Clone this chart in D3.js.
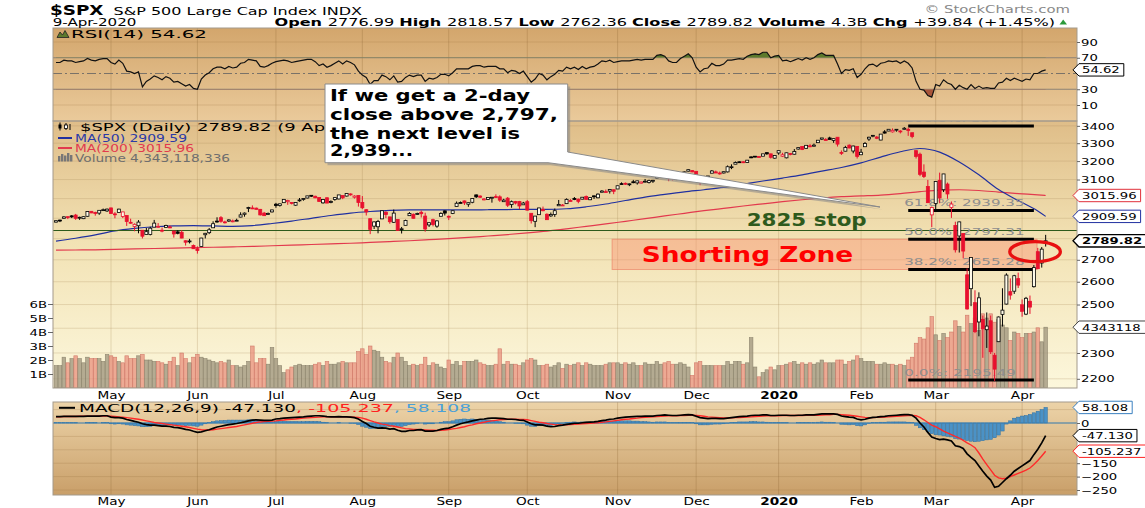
<!DOCTYPE html>
<html><head><meta charset="utf-8">
<script src="https://cdn.jsdelivr.net/npm/d3@7/dist/d3.min.js"></script>
<style>html,body{margin:0;padding:0;background:#fff;overflow:hidden}svg{display:block}</style>
</head><body>
<svg id="chart" width="1145" height="508"></svg>
<script>
// ================= DATA =================
// trading-day index: 0 = 1 May 2019, first bar (-14) = 10 Apr 2019, last bar (238) = 9 Apr 2020
const firstDay = -14;
const monthLabels = ["May","Jun","Jul","Aug","Sep","Oct","Nov","Dec","2020","Feb","Mar","Apr"];
const monthStart  = [0,22,42,64,86,106,129,149,170,191,210,232];

const openP = [2881,2891,2900,2908,2912,2916,2904,2898,2910,2935,2929,2926,2940,2937,
2952,2922,2929,2909,2914,2880,2859,2863,2841,2820,2820,2856,2859,2841,2855,2857,2837,2833,2831,2790,2786,2767,
2752,2763,2819,2829,2853,2886,2903,2882,2886,2886,2889,2906,2920,2950,2952,2951,2945,2926,2919,2932,
2971,2964,2979,2984,2980,2966,2989,2999,3003,3017,3012,3006,2978,3004,2982,2995,2998,3016,3013,3024,3007,3016,
2980,2943,2898,2861,2858,2897,2930,2907,2880,2894,2847,2865,2913,2920,2922,2930,2911,2867,2893,2861,2910,2937,
2910,2924,2960,2980,2988,2971,2981,3019,3013,2996,2996,3002,3010,3009,2984,3002,2969,2985,2985,2968,
2984,2925,2885,2918,2945,2920,2912,2919,2963,2966,2974,2990,3000,2997,2997,3011,2994,3014,3004,3033,3036,3039,3046,
3050,3078,3080,3075,3088,3082,3081,3089,3084,3091,3108,3118,3127,3114,3109,3112,3118,3134,3145,3148,
3144,3087,3103,3119,3134,3141,3135,3135,3141,3166,3183,3196,3196,3192,3223,3227,3225,3227,3247,3240,3216,
3245,3227,3218,3242,3238,3267,3281,3271,3285,3283,3303,3323,3321,3330,3316,3334,3248,3255,3289,3256,3282,
3235,3280,3324,3344,3335,3318,3365,3370,3365,3378,3370,3380,3380,3360,3258,3238,3140,3063,2917,
2975,3096,3046,3076,2954,2864,2813,2825,2631,2569,2508,2426,2437,2394,2431,2291,2345,2458,2502,2556,2558,2614,
2499,2459,2514,2578,2738,2685,2776.99];

const highP = [2889,2893,2910,2909,2916,2922,2908,2909,2936,2936,2933,2940,2949,2949,
2954,2931,2948,2932,2914,2898,2875,2891,2841,2852,2858,2892,2876,2854,2868,2865,2837,2841,2841,2792,2799,2772,
2763,2804,2828,2852,2885,2905,2911,2888,2895,2894,2898,2930,2929,2958,2965,2954,2947,2932,2929,2943,
2978,2974,2996,2994,2980,2981,3003,3002,3014,3017,3015,3006,2998,3007,2991,3005,3019,3016,3028,3027,3017,3017,
3013,2946,2898,2884,2892,2938,2935,2907,2944,2894,2857,2893,2931,2924,2928,2939,2928,2879,2898,2890,2930,2940,
2914,2938,2985,2985,2990,2979,3000,3021,3017,3003,3006,3008,3022,3017,2999,3008,2990,2988,2988,2983,
2993,2925,2911,2953,2959,2925,2929,2949,2993,2972,3001,2997,3008,3000,3008,3016,3005,3016,3027,3044,3047,3050,3047,
3067,3085,3084,3079,3098,3094,3088,3103,3099,3098,3120,3124,3127,3118,3111,3113,3133,3143,3155,3151,
3144,3094,3120,3119,3151,3148,3143,3143,3176,3182,3198,3198,3199,3206,3226,3228,3226,3240,3248,3241,3232,
3258,3246,3247,3245,3267,3275,3283,3288,3295,3298,3317,3330,3329,3337,3326,3334,3259,3285,3293,3286,3282,
3268,3307,3337,3347,3341,3352,3375,3381,3385,3381,3375,3393,3390,3360,3259,3247,3182,3098,2959,
3091,3137,3130,3084,2985,2883,2883,2825,2660,2711,2562,2553,2453,2466,2453,2300,2449,2571,2638,2615,2631,2641,
2522,2533,2539,2676,2756,2760,2818.57];

const lowP = [2879,2881,2898,2896,2901,2892,2892,2896,2908,2926,2913,2917,2939,2932,
2923,2900,2929,2901,2862,2873,2836,2826,2801,2820,2816,2856,2852,2831,2855,2851,2805,2821,2802,2767,2777,2751,
2729,2763,2801,2822,2853,2878,2878,2874,2882,2880,2886,2905,2908,2931,2946,2944,2914,2912,2918,2929,
2953,2959,2979,2968,2970,2963,2984,2989,3001,3008,3002,2985,2974,2976,2976,2989,2996,2997,3011,3015,3000,2959,
2946,2914,2822,2847,2826,2896,2901,2873,2877,2840,2825,2865,2913,2899,2917,2904,2834,2857,2860,2853,2910,2914,
2891,2921,2960,2976,2967,2958,2976,3003,3003,2991,2993,2979,3004,2983,2983,2957,2953,2970,2946,2967,
2939,2874,2856,2918,2935,2893,2907,2907,2963,2963,2974,2986,2992,2976,2996,2995,2992,2998,3002,3032,3034,3026,3023,
3050,3075,3072,3065,3080,3073,3078,3084,3079,3082,3104,3109,3113,3091,3095,3097,3117,3131,3143,3139,
3110,3070,3103,3103,3134,3135,3126,3133,3138,3156,3183,3191,3189,3192,3216,3221,3221,3227,3235,3214,3213,
3235,3223,3215,3232,3236,3264,3261,3268,3277,3281,3302,3318,3316,3321,3302,3281,3234,3254,3271,3243,3214,
3235,3280,3313,3334,3323,3317,3355,3369,3361,3366,3356,3378,3342,3328,3214,3118,3108,2977,2856,
2945,2976,3034,2999,2902,2734,2734,2707,2478,2493,2380,2367,2281,2320,2296,2192,2345,2407,2500,2521,2546,2572,
2448,2455,2460,2574,2657,2664,2762.36];

const closeP = [2888,2888,2907,2905,2907,2900,2905,2908,2934,2927,2926,2940,2943,2946,
2924,2918,2946,2932,2884,2880,2870,2881,2812,2834,2851,2876,2860,2840,2864,2856,2823,2826,2803,2783,2789,2752,
2744,2803,2826,2843,2873,2886,2885,2879,2892,2887,2890,2917,2926,2954,2950,2945,2917,2913,2924,2942,
2964,2973,2996,2990,2976,2980,2993,3000,3014,3014,3004,2985,2995,2977,2985,3005,3019,3004,3026,3021,3013,2980,
2953,2932,2845,2882,2884,2938,2919,2883,2926,2840,2848,2889,2924,2900,2924,2923,2847,2878,2869,2887,2924,2926,
2906,2938,2976,2979,2978,2979,3000,3009,3007,2998,3006,3007,3006,2992,2992,2966,2984,2977,2962,2977,
2941,2888,2911,2952,2938,2893,2919,2938,2970,2967,2996,2990,2998,2986,3007,2996,3005,3010,3023,3039,3036,3047,3038,
3067,3078,3075,3077,3085,3093,3087,3091,3094,3096,3120,3122,3120,3108,3104,3110,3133,3141,3153,3141,
3114,3093,3113,3117,3146,3135,3133,3142,3169,3169,3192,3193,3191,3205,3221,3224,3223,3240,3240,3221,3231,
3258,3235,3246,3237,3253,3275,3265,3288,3283,3289,3317,3330,3321,3321,3326,3295,3244,3276,3273,3284,3226,
3249,3298,3334,3345,3328,3352,3358,3380,3374,3380,3370,3386,3373,3338,3226,3128,3116,2979,2954,
3090,3003,3130,3024,2972,2747,2882,2741,2481,2711,2386,2529,2398,2409,2305,2237,2447,2476,2630,2541,2627,2585,
2471,2527,2489,2664,2659,2750,2789.82];

// volume, billions of shares
const volumeB = [1.6,1.6,2.2,1.8,2.1,2.3,2.1,1.8,2.2,2.1,2.1,2.1,1.9,2.4,
2.3,2.2,1.9,1.8,2.3,2.1,2.1,2.3,2.4,2.0,2.0,1.9,1.9,1.8,1.7,1.9,2.2,1.6,2.5,2.1,1.8,2.2,
2.4,2.2,2.1,2.0,1.9,1.8,1.9,1.8,2.0,1.6,1.6,1.5,1.6,1.9,3.0,1.8,2.1,2.1,1.7,2.9,
2.1,1.6,1.1,1.3,1.5,1.6,1.7,1.6,1.6,1.6,1.7,1.8,1.6,1.9,1.7,1.7,1.8,1.9,1.8,1.8,1.8,2.6,
2.8,2.4,3.0,2.7,2.6,2.2,1.9,1.8,2.2,2.5,2.2,1.9,1.6,1.7,1.6,1.7,2.2,1.6,1.8,1.7,1.5,1.4,
2.0,1.7,1.9,1.6,1.9,1.9,1.9,2.0,1.8,1.7,1.6,1.6,1.7,2.8,1.7,1.9,1.7,1.7,1.6,1.8,
2.0,2.1,2.0,1.6,1.6,1.7,1.5,1.6,1.8,1.4,1.7,1.6,1.7,1.8,1.6,1.8,1.7,1.6,1.6,1.6,1.7,1.8,1.8,
1.8,1.7,1.8,1.7,1.8,1.6,1.6,1.8,1.7,1.7,1.9,1.7,1.8,1.9,1.7,1.7,1.8,1.7,1.5,0.9,
1.8,1.9,1.6,1.6,1.6,1.6,1.6,1.6,1.9,1.7,1.9,1.9,1.7,1.8,3.6,1.5,0.8,1.1,1.3,1.5,1.3,
1.6,1.6,1.7,1.8,1.9,1.7,1.8,1.7,1.8,1.7,1.8,2.0,1.8,1.8,1.8,2.0,2.0,1.7,1.9,2.0,2.3,
2.1,1.9,1.9,1.9,1.7,1.7,1.8,1.7,1.7,1.6,1.7,1.6,2.0,2.2,3.2,3.6,3.5,4.3,5.1,
3.8,3.4,3.9,3.6,4.0,4.8,4.4,4.0,5.2,4.6,5.0,4.1,5.3,5.0,5.3,4.7,4.9,4.5,4.3,3.4,4.0,3.9,
3.6,3.9,3.9,4.0,4.3,3.3,4.343];

const rsi = [64,64,67,66,66,64,65,66,69,67,66,68,69,69,
64,62,67,63,53,52,50,52,33,40,43,47,45,42,46,44,39,40,37,34,36,31,
30,43,48,51,56,58,58,56,59,57,58,63,64,68,67,66,59,58,60,63,
65,66,67,66,64,65,66,67,68,68,65,60,62,58,60,63,66,62,66,64,61,53,
48,45,36,41,41,48,46,42,47,39,40,45,48,46,48,48,40,44,43,45,49,49,
47,51,56,56,56,56,59,60,60,58,59,59,59,56,56,51,54,53,50,53,
46,39,43,50,48,42,46,49,54,53,58,56,58,55,59,56,58,59,62,66,65,67,64,
65,66,66,66,67,68,67,68,68,68,73,74,72,66,64,64,69,72,75,70,
58,52,56,57,63,60,60,62,67,67,68,69,68,72,74,75,74,77,77,70,72,
73,66,67,65,67,69,67,70,68,70,74,76,73,73,73,62,50,55,54,56,45,
49,56,61,62,59,63,64,66,65,66,63,66,63,57,40,30,29,22,20,
36,34,42,38,36,30,35,32,30,36,31,34,31,32,31,31,38,39,44,41,44,42,
40,43,42,50,50,53,54.62];

const macd = [24,24,25,25,25,25,25,25,26,26,26,26,27,27,
22,20,20,18,13,10,6,3,-3,-6,-8,-8,-10,-12,-12,-13,-16,-17,-20,-24,-26,-31,
-35,-33,-29,-25,-20,-15,-12,-9,-6,-4,-2,1,4,8,11,12,11,10,10,11,
15,16,18,19,20,21,22,23,25,26,27,27,26,24,23,23,24,23,23,22,20,15,
6,-2,-12,-16,-19,-18,-19,-23,-21,-27,-31,-31,-28,-28,-26,-25,-30,-30,-30,-28,-24,-21,
-19,-14,-8,-3,1,4,8,11,14,15,17,18,18,17,16,14,14,13,11,10,
4,-3,-7,-7,-8,-12,-14,-13,-10,-8,-5,-3,-1,-1,1,2,3,4,6,9,11,14,15,
18,20,22,23,24,25,25,26,26,26,28,29,30,29,28,28,29,30,31,30,
25,20,18,16,17,17,16,16,18,20,22,24,25,26,28,29,29,30,30,28,28,
29,29,29,28,28,29,29,30,30,30,32,34,34,34,34,32,26,24,22,21,15,
12,14,18,21,22,24,25,27,28,29,30,31,31,29,18,0,-15,-35,-52,
-58,-62,-60,-63,-67,-85,-88,-95,-115,-128,-140,-160,-180,-198,-213,-240,-236,-222,-208,-195,-180,-170,
-160,-150,-140,-118,-98,-74,-47.13];

const signal = [23,23,24,24,24,24,25,25,25,25,25,26,26,26,
25,24,23,22,20,18,16,14,11,8,5,2,0,-2,-4,-6,-8,-10,-12,-14,-17,-20,
-23,-25,-26,-26,-25,-23,-21,-19,-17,-15,-13,-10,-7,-4,-1,2,4,5,6,7,
8,10,11,13,14,15,17,18,19,20,21,22,23,23,23,23,23,23,23,23,22,21,
18,14,9,4,0,-4,-6,-10,-12,-15,-18,-21,-22,-24,-24,-25,-26,-27,-27,-28,-27,-26,
-24,-22,-20,-17,-14,-10,-7,-3,0,3,6,8,10,12,13,14,14,14,13,13,
12,9,6,3,1,-2,-4,-6,-7,-7,-7,-6,-5,-4,-3,-2,-1,0,1,3,4,6,8,
10,12,14,15,17,18,20,21,22,23,24,25,26,27,27,27,28,28,29,29,
28,27,25,23,22,21,20,19,19,19,20,20,21,22,23,24,25,26,27,27,27,
27,28,28,28,28,28,28,29,29,29,29,30,31,31,32,32,31,30,29,27,25,
23,21,20,20,21,21,22,23,24,25,26,27,28,28,27,21,12,2,-8,
-14,-22,-30,-37,-43,-50,-56,-65,-74,-82,-92,-112,-135,-155,-175,-195,-205,-208,-206,-200,-194,-188,
-182,-176,-168,-155,-140,-123,-105.237];

const hist = [1,1,1,1,1,1,0,0,1,1,1,0,1,1,
-3,-4,-3,-4,-7,-8,-10,-11,-14,-14,-13,-10,-10,-10,-8,-7,-8,-7,-8,-10,-9,-11,
-12,-8,-3,1,5,8,9,10,11,11,11,11,11,12,12,10,7,5,4,4,
7,6,7,6,6,6,5,5,6,6,6,5,3,1,0,0,1,0,0,-1,-2,-6,
-12,-16,-21,-20,-19,-14,-13,-13,-9,-12,-13,-10,-6,-4,-2,0,-4,-3,-3,0,3,5,
5,8,12,14,15,14,15,14,14,12,11,10,8,5,3,0,0,-1,-2,-3,
-8,-12,-13,-10,-9,-10,-10,-7,-3,-1,2,3,4,3,4,4,4,4,5,6,7,8,7,
8,8,8,8,7,7,5,5,4,3,4,4,4,2,1,1,1,2,2,1,
-3,-7,-7,-7,-5,-4,-4,-3,-1,1,2,4,4,4,5,5,4,4,3,1,1,
2,1,1,0,0,1,1,1,1,1,3,4,3,3,2,0,-5,-6,-7,-6,-10,
-11,-7,-2,1,1,3,3,4,4,4,4,4,3,1,-9,-18,-25,-33,-40,
-44,-45,-48,-50,-52,-58,-60,-62,-65,-68,-70,-68,-66,-63,-61,-55,-45,-30,-4,8,18,22,
26,28,32,38,44,50,58.108];

const maDays = [-14,-9,-4,1,6,11,16,21,26,31,36,41,46,51,56,61,66,71,76,81,86,91,96,101,106,111,116,121,126,131,136,141,146,151,156,161,166,171,176,181,186,191,196,201,206,211,216,221,226,231,236,238];
const ma50 = [2788,2802,2818,2838,2850,2858,2862,2864,2862,2860,2864,2874,2886,2900,2914,2926,2934,2940,2942,2942,
2942,2942,2943,2944,2945,2945,2948,2958,2972,2990,3008,3022,3035,3046,3058,3075,3092,3108,3125,3145,
3165,3190,3222,3252,3270,3250,3195,3125,3047,2990,2937,2909.59];
const ma200 = [2745,2746,2747,2749,2751,2753,2755,2757,2759,2761,2763,2766,2769,2772,2775,2778,2782,2786,2790,2795,
2800,2806,2813,2820,2828,2837,2848,2860,2872,2885,2898,2912,2925,2938,2950,2962,2973,2984,2994,3003,
3010,3014,3018,3026,3036,3044,3046,3042,3034,3026,3019,3015.96];

const fibLabels = ["100.0%: 3399.14","61.8%: 2939.35","50.0%: 2797.31","38.2%: 2655.28","0.0%: 2195.49"];
const fibValues = [3399.14,2939.35,2797.31,2655.28,2195.49];

const rsiTicks = [10,30,50,70,90];
const priceTicks = [2200,2300,2400,2500,2600,2700,2800,2900,3000,3100,3200,3300,3400];
const volTicks = [1,2,3,4,5,6];
const macdTicks = [50,0,-50,-100,-150,-200,-250];
// tick labels hidden behind the value tags in the reference
const hiddenRsi = [50], hiddenPrice = [2400,2800,2900,3000], hiddenMacd = [50,-50,-100];

const headerStats = [["Open","2776.99"],["High","2818.57"],["Low","2762.36"],["Close","2789.82"],["Volume","4.3B"],["Chg","+39.84 (+1.45%)"]];
const calloutLines = ["If we get a 2-day","close above 2,797,","the next level is","2,939..."];
const stopLineLevel = 2840;
const zoneLow = 2655.28, zoneHigh = 2797.31;

// ================= LAYOUT =================
const svg = d3.select('#chart');
const L = 53, R = 1077;
const rsiTop = 28, rsiBot = 121, pTop = 121, pBot = 388, mTop = 402, mBot = 495;
const SX = 1.42, AXFS = 9.3, FF = 'DejaVu Sans';
const RED = '#e8102e', BLK = '#000';

const days = d3.range(firstDay, firstDay + closeP.length);
const x = d3.scaleLinear().domain([0, 232]).range([111, 1022.1]);
const yP = d3.scaleLog().domain([2195.49, 3399.14]).range([380, 126]);
const yV = d3.scaleLinear().domain([0, 1]).range([pBot, pBot - 14]);
const yR = d3.scaleLinear().domain([10, 90]).range([105, 42]);
const yM = d3.scaleLinear().domain([-250, 0]).range([490, 423]);

const defs = svg.append('defs');
function grad(id, stops){ const g = defs.append('linearGradient').attr('id',id).attr('x1',0).attr('y1',0).attr('x2',0).attr('y2',1);
  stops.forEach(([o,c])=>g.append('stop').attr('offset',o).attr('stop-color',c)); }
grad('gRSI', [[0,'#d3a66c'],[1,'#eaca9b']]);
grad('gPrice', [[0,'#dfbd88'],[0.45,'#f2e2b4'],[1,'#fcf7dc']]);
grad('gMACD', [[0,'#ecd3a8'],[1,'#c99f69']]);
function clip(id,x0,y0,w,h){ defs.append('clipPath').attr('id',id).append('rect').attr('x',x0).attr('y',y0).attr('width',w).attr('height',h); }
clip('cR', L, rsiTop, R-L, rsiBot-rsiTop);
clip('cP', L, pTop, R-L, pBot-pTop);
clip('cM', L, mTop, R-L, mBot-mTop);
clip('cR70', L, rsiTop, R-L, yR(70)-rsiTop);
clip('cR30', L, yR(30), R-L, rsiBot-yR(30));

function txt(sel, xx, yy, s, o={}){
  const t = sel.append('text').attr('x',xx).attr('y',yy).text(s)
    .attr('font-family', o.ff||FF).attr('font-size', o.fs||10)
    .attr('font-weight', o.fw||'normal').attr('fill', o.fill||'#000')
    .attr('text-anchor', o.anchor||'start');
  if (o.w) t.attr('textLength', o.w).attr('lengthAdjust','spacingAndGlyphs');
  else if (o.sx) t.attr('x',0).attr('y',0).attr('transform',`translate(${xx},${yy}) scale(${o.sx},1)`);
  return t;
}

// ---------- panel backgrounds ----------
svg.append('rect').attr('x',L).attr('y',rsiTop).attr('width',R-L).attr('height',rsiBot-rsiTop).attr('fill','url(#gRSI)');
svg.append('rect').attr('x',L).attr('y',pTop).attr('width',R-L).attr('height',pBot-pTop).attr('fill','url(#gPrice)');
svg.append('rect').attr('x',L).attr('y',mTop).attr('width',R-L).attr('height',mBot-mTop).attr('fill','url(#gMACD)');

// ---------- grid ----------
const grid = svg.append('g');
[[rsiTop,rsiBot,'rgba(140,100,50,0.28)'],[pTop,pBot,'rgba(170,140,90,0.28)'],[mTop,mBot,'rgba(140,100,50,0.28)']].forEach(([a,b,c])=>{
  grid.selectAll(null).data(monthStart).enter().append('line')
    .attr('x1',d=>x(d)).attr('x2',d=>x(d)).attr('y1',a).attr('y2',b).attr('stroke',c).attr('stroke-width',1);
});
grid.selectAll(null).data(priceTicks).enter().append('line')
  .attr('x1',L).attr('x2',R).attr('y1',d=>yP(d)).attr('y2',d=>yP(d)).attr('stroke','rgba(170,140,90,0.25)');
grid.selectAll(null).data(macdTicks).enter().append('line')
  .attr('x1',L).attr('x2',R).attr('y1',d=>yM(d)).attr('y2',d=>yM(d)).attr('stroke','rgba(140,100,50,0.2)');
grid.selectAll(null).data([10,90]).enter().append('line')
  .attr('x1',L).attr('x2',R).attr('y1',d=>yR(d)).attr('y2',d=>yR(d)).attr('stroke','rgba(140,100,50,0.2)');
grid.selectAll(null).data([30,70]).enter().append('line')
  .attr('x1',L).attr('x2',R).attr('y1',d=>yR(d)).attr('y2',d=>yR(d)).attr('stroke','#8c8274').attr('stroke-width',1.1);
grid.append('line').attr('x1',L).attr('x2',R).attr('y1',yR(50)).attr('y2',yR(50))
  .attr('stroke','#7a7268').attr('stroke-dasharray','9,3,2,3');

// ---------- RSI ----------
const gR = svg.append('g').attr('clip-path','url(#cR)');
gR.append('path').datum(rsi).attr('clip-path','url(#cR70)').attr('d', d3.area().x((d,i)=>x(days[i])).y1(d=>yR(d)).y0(yR(70))).attr('fill','#5d7a2c');
gR.append('path').datum(rsi).attr('clip-path','url(#cR30)').attr('d', d3.area().x((d,i)=>x(days[i])).y1(d=>yR(d)).y0(yR(30))).attr('fill','#a8553a');
gR.append('path').datum(rsi).attr('d', d3.line().x((d,i)=>x(days[i])).y(d=>yR(d))).attr('fill','none').attr('stroke','#111').attr('stroke-width',1.2);

// ---------- price panel ----------
const gP = svg.append('g').attr('clip-path','url(#cP)');
gP.selectAll(null).data(days).enter().append('rect')
  .attr('x',d=>x(d)-1.8).attr('width',3.6)
  .attr('y',(d,i)=>yV(volumeB[i])).attr('height',(d,i)=>pBot-yV(volumeB[i]))
  .attr('fill',(d,i)=> i>0 && closeP[i]<closeP[i-1] ? 'rgba(232,140,120,0.72)' : 'rgba(160,150,125,0.78)')
  .attr('stroke',(d,i)=> i>0 && closeP[i]<closeP[i-1] ? 'rgba(205,110,95,0.85)' : 'rgba(130,122,100,0.85)')
  .attr('stroke-width',0.6);
const maLine = arr => d3.line().curve(d3.curveMonotoneX).x((d,i)=>x(maDays[i])).y(d=>yP(d))(arr);
gP.append('path').attr('d', maLine(ma200)).attr('fill','none').attr('stroke','#e23a4e').attr('stroke-width',1.2);
gP.append('path').attr('d', maLine(ma50)).attr('fill','none').attr('stroke','#2030a0').attr('stroke-width',1.2);
gP.append('line').attr('x1',L).attr('x2',R).attr('y1',yP(stopLineLevel)).attr('y2',yP(stopLineLevel)).attr('stroke','#2e5a1c').attr('stroke-width',1.1);
gP.append('rect').attr('x',x(127.6)).attr('y',yP(zoneHigh)).attr('width',x(235.8)-x(127.6)).attr('height',yP(zoneLow)-yP(zoneHigh))
  .attr('fill','rgba(250,140,110,0.42)').attr('stroke','rgba(235,120,95,0.6)').attr('stroke-width',1);
txt(gP, 641.7, 261.7, 'Shorting Zone', {fs:20.5, fw:'bold', fill:'#ff0000', w:211.6});
txt(gP, 746.7, 226.2, '2825 stop', {fs:17.4, fw:'bold', fill:'#2e5a1c', w:120});
fibValues.forEach((v,i)=>{
  gP.append('line').attr('x1',x(203)).attr('x2',x(235)).attr('y1',yP(v)).attr('y2',yP(v)).attr('stroke','#000').attr('stroke-width',3);
  txt(gP, x(203)-4, yP(v)-4.5, fibLabels[i], {fs:8.4, fill:'#8e8e8e', w: fibLabels[i].length*8.6});
});
const gC = gP.append('g');
days.forEach((d,i)=>{
  const o=openP[i], h=highP[i], l=lowP[i], c=closeP[i];
  const prev = i>0 ? closeP[i-1] : o;
  const col = c < prev ? RED : BLK;
  const cx = x(d);
  gC.append('line').attr('x1',cx).attr('x2',cx).attr('y1',yP(h)).attr('y2',yP(l)).attr('stroke',col).attr('stroke-width',1);
  const yt = yP(Math.max(o,c)), yb = yP(Math.min(o,c));
  gC.append('rect').attr('x',cx-1.5).attr('width',3).attr('y',yt).attr('height',Math.max(yb-yt,0.9))
    .attr('fill', c>o ? '#fffbea' : col).attr('stroke',col).attr('stroke-width',0.8);
});
gP.append('ellipse').attr('cx',x(235.3)).attr('cy',yP(2738)).attr('rx',25.3).attr('ry',10)
  .attr('fill','none').attr('stroke','#e81010').attr('stroke-width',3.3);

// ---------- MACD ----------
const gM = svg.append('g').attr('clip-path','url(#cM)');
gM.selectAll(null).data(days).enter().append('rect')
  .attr('x',d=>x(d)-1.7).attr('width',3.4)
  .attr('y',(d,i)=>Math.min(yM(0),yM(hist[i]))).attr('height',(d,i)=>Math.abs(yM(hist[i])-yM(0)))
  .attr('fill','#4b92c6').attr('stroke','#2f6f9f').attr('stroke-width',0.5);
gM.append('line').attr('x1',L).attr('x2',R).attr('y1',yM(0)).attr('y2',yM(0)).attr('stroke','#3a82b8').attr('stroke-width',1);
gM.append('path').datum(signal).attr('d', d3.line().x((d,i)=>x(days[i])).y(d=>yM(d))).attr('fill','none').attr('stroke','#ff2a2a').attr('stroke-width',1.4);
gM.append('path').datum(macd).attr('d', d3.line().x((d,i)=>x(days[i])).y(d=>yM(d))).attr('fill','none').attr('stroke','#000').attr('stroke-width',1.7);

// ---------- panel borders ----------
[[rsiTop,rsiBot],[pTop,pBot],[mTop,mBot]].forEach(([a,b])=>{
  svg.append('rect').attr('x',L).attr('y',a).attr('width',R-L).attr('height',b-a).attr('fill','none').attr('stroke','#a39a8c').attr('stroke-width',1);
});

// ---------- axes ----------
function styleAxis(g, dx, anchor, hidden){
  g.attr('font-family',FF).attr('font-size',AXFS);
  g.select('.domain').remove();
  g.selectAll('.tick line').attr('stroke','#666');
  g.selectAll('.tick text').attr('fill','#000').attr('x',dx/SX).attr('dy','0.34em').attr('text-anchor',anchor)
    .attr('transform',`scale(${SX},1)`);
  if (hidden) g.selectAll('.tick text').filter(d=>hidden.includes(d)).remove();
}
const aR = svg.append('g').attr('transform',`translate(${R},0)`).call(d3.axisRight(yR).tickValues(rsiTicks).tickSize(3));
styleAxis(aR, 4, 'start', hiddenRsi);
const aP = svg.append('g').attr('transform',`translate(${R},0)`).call(d3.axisRight(yP).tickValues(priceTicks).tickFormat(d3.format('d')).tickSize(3));
styleAxis(aP, 4, 'start', hiddenPrice);
const aM = svg.append('g').attr('transform',`translate(${R},0)`).call(d3.axisRight(yM).tickValues(macdTicks).tickFormat(d3.format('d')).tickSize(3));
styleAxis(aM, 4, 'start', hiddenMacd);
const aV = svg.append('g').attr('transform',`translate(${L},0)`).call(d3.axisLeft(yV).tickValues(volTicks).tickFormat(d=>d+'B').tickSize(5));
styleAxis(aV, -6, 'end');
[pBot, mBot].forEach((yy,k)=>{
  const g = svg.append('g').attr('transform',`translate(0,${yy})`)
    .call(d3.axisBottom(x).tickValues(monthStart).tickFormat((d,i)=>monthLabels[i]).tickSize(0));
  g.attr('font-family',FF).attr('font-size',9.6);
  g.select('.domain').remove();
  g.selectAll('.tick text').attr('fill','#000').attr('y',0).attr('dy',0)
    .attr('transform',`translate(0,${k===0?10.5:10}) scale(${SX},1)`)
    .attr('font-weight',(d,i)=>monthLabels[i]==='2020'?'bold':'normal');
});

// ---------- right-axis value tags ----------
function tag(yy, label, stroke, o={}){
  const g = svg.append('g');
  const t = g.append('text').text(label).attr('font-family',FF).attr('font-size',AXFS).attr('font-weight',o.bold?'bold':'normal').attr('fill','#000');
  const tw = t.node().getComputedTextLength()*SX;
  const bx = R+2, bw = o.boxW || (tw+7);
  g.insert('path','text').attr('d',`M${R-4},${yy} L${bx},${yy-6.2} H${bx+bw} V${yy+6.2} H${bx} Z`)
    .attr('fill','#fff').attr('stroke',stroke).attr('stroke-width',o.sw||1);
  t.attr('transform',`translate(${bx+3},${yy+3.4}) scale(${SX},1)`);
}
tag(yR(54.62), '54.62', '#000');
tag(yP(3015.96), '3015.96', '#e0303a');
tag(yP(2909.59), '2909.59', '#2030a0');
tag(yP(2789.82), '2789.82', '#000', {bold:true, sw:1.3});
tag(yV(4.343118336), '4343118', '#444', {boxW:90});
tag(yM(58.108), '58.108', '#3a80c0');
tag(yM(-47.13), '-47.130', '#000');
tag(yM(-105.237), '-105.237', '#ff2020', {boxW:80});

// ---------- legends ----------
svg.append('path').attr('d','M57,37.5 L60,32 L62.5,35 L65,30.5 L69,37.5 Z').attr('fill','#5d7a2c').attr('stroke','#222').attr('stroke-width',0.8);
txt(svg, 71, 37.5, 'RSI(14) 54.62', {fs:10, w:136});
const ic = svg.append('g');
ic.append('line').attr('x1',60).attr('x2',60).attr('y1',122.5).attr('y2',130.5).attr('stroke','#000');
ic.append('rect').attr('x',58.5).attr('y',124.5).attr('width',3).attr('height',4).attr('fill','#000');
ic.append('line').attr('x1',66).attr('x2',66).attr('y1',123).attr('y2',130).attr('stroke','#000');
ic.append('rect').attr('x',64.5).attr('y',125).attr('width',3).attr('height',3.5).attr('fill','#fff').attr('stroke','#000').attr('stroke-width',0.8);
ic.append('line').attr('x1',70).attr('x2',70).attr('y1',124).attr('y2',130).attr('stroke','#000');
txt(svg, 80, 130.7, '$SPX (Daily) 2789.82 (9 Apr 2020)', {fs:10, w:311});
svg.append('line').attr('x1',58).attr('x2',72).attr('y1',138).attr('y2',138).attr('stroke','#2030a0').attr('stroke-width',2);
txt(svg, 75, 141.6, 'MA(50) 2909.59', {fs:10, fill:'#2a3aa8', w:112});
svg.append('line').attr('x1',58).attr('x2',72).attr('y1',148).attr('y2',148).attr('stroke','#e23a4e').attr('stroke-width',2);
txt(svg, 75, 151.7, 'MA(200) 3015.96', {fs:10, fill:'#e23a4e', w:119});
[[58,156],[61,154],[64,155.5],[67,153],[70,155]].forEach(([bx,by])=>svg.append('rect').attr('x',bx).attr('y',by).attr('width',2.4).attr('height',161.5-by).attr('fill','#777'));
txt(svg, 75, 161.7, 'Volume 4,343,118,336', {fs:10, fill:'#6e6e6e', w:155});
svg.append('line').attr('x1',59).attr('x2',75).attr('y1',407.8).attr('y2',407.8).attr('stroke','#000').attr('stroke-width',2);
txt(svg, 79, 411.7, 'MACD(12,26,9) -47.130', {fs:10, w:217});
txt(svg, 296, 411.7, ', -105.237', {fs:10, fill:'#ff2020', w:98});
txt(svg, 394, 411.7, ', 58.108', {fs:10, fill:'#4aa0d8', w:77});

// ---------- header ----------
txt(svg, 50, 14.5, '$SPX', {fs:13.5, fw:'bold', w:53.5});
txt(svg, 113.5, 14.5, 'S&P 500 Large Cap Index INDX', {fs:11, w:248.5});
txt(svg, 52.7, 26, '9-Apr-2020', {fs:10.5, w:83.7});
txt(svg, 1070, 12.5, '\u00a9 StockCharts.com', {fs:10.5, fill:'#8a8a8a', anchor:'end', w:145.5});
const hdr = svg.append('text').attr('x',274.5).attr('y',26).attr('font-family',FF).attr('font-size',10.5)
  .attr('textLength',780.5).attr('lengthAdjust','spacingAndGlyphs');
headerStats.forEach(([k,v],i)=>{
  hdr.append('tspan').attr('font-weight','bold').text(k+' ');
  hdr.append('tspan').text(v + (i<headerStats.length-1 ? '  ' : ''));
});
svg.append('path').attr('d','M1059.5,24.5 L1067,24.5 L1063.2,19.5 Z').attr('fill','#2a9a3a');

// ---------- callout ----------
const cp = 'M325,84 H567.7 V152 L880,207 L548,162.7 H325 Z';
svg.append('path').attr('d',cp).attr('transform','translate(2.5,2.5)').attr('fill','#888').attr('opacity',0.55);
svg.append('path').attr('d',cp).attr('fill','#fff').attr('stroke','#8a8a8a').attr('stroke-width',1);
const cw = [200,228,190,83], cb = [101,120.3,138.6,156];
calloutLines.forEach((s,i)=> txt(svg, 330, cb[i], s, {fs:15.5, fw:'bold', w:cw[i]}));
</script>
</body></html>
